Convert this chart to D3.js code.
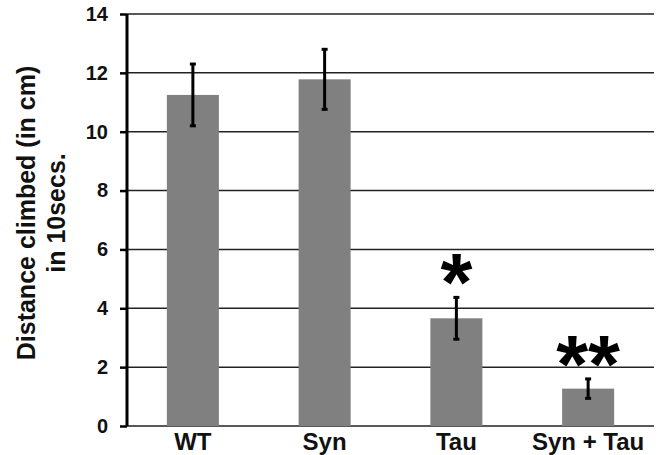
<!DOCTYPE html>
<html>
<head>
<meta charset="utf-8">
<script src="https://cdn.jsdelivr.net/npm/d3@7"></script>
<style>
  body { margin: 0; background: #fff; }
  text { font-family: "Liberation Sans", Arial, sans-serif; font-weight: bold; }
</style>
</head>
<body>
<figure id="climb" style="margin:0"></figure>
<script>
// data
const groups = ["WT", "Syn", "Tau", "Syn + Tau"];
const means = [11.25, 11.78, 3.66, 1.27];
const errors = [1.05, 1.02, 0.71, 0.33];
const stars = ["", "", "*", "**"];
const yTicks = [0, 2, 4, 6, 8, 10, 12, 14];

const W = 666, H = 455;
const margin = { top: 14, right: 12, bottom: 29, left: 127 };
const width = W - margin.left - margin.right;
const height = H - margin.top - margin.bottom;

const svg = d3.select("figure#climb")
  .append("svg")
  .attr("width", W)
  .attr("height", H)
  .append("g")
  .attr("transform", "translate(" + margin.left + "," + margin.top + ")");

// x band scale
const x = d3.scaleBand()
  .range([0, width])
  .domain(groups)
  .paddingInner(0.605)
  .paddingOuter(0.3025);

// y linear scale
const y = d3.scaleLinear()
  .domain([0, 14])
  .range([height, 0]);

// horizontal gridlines
svg.append("g")
  .selectAll("line")
  .data(yTicks)
  .enter()
  .append("line")
  .attr("x1", 0)
  .attr("x2", width)
  .attr("y1", d => y(d))
  .attr("y2", d => y(d))
  .attr("stroke", "#222")
  .attr("stroke-width", 1.5);

// bars
svg.selectAll("bars")
  .data(groups)
  .enter()
  .append("rect")
  .attr("x", d => x(d))
  .attr("y", (d, i) => y(means[i]))
  .attr("width", x.bandwidth())
  .attr("height", (d, i) => height - y(means[i]))
  .attr("fill", "#808080");

// error bars
const err = svg.append("g").attr("stroke", "#000");
groups.forEach((g, i) => {
  const cx = x(g) + x.bandwidth() / 2;
  err.append("line")
    .attr("x1", cx).attr("x2", cx)
    .attr("y1", y(means[i] + errors[i]))
    .attr("y2", y(means[i] - errors[i]))
    .attr("stroke-width", 3);
  [means[i] + errors[i], means[i] - errors[i]].forEach(v => {
    err.append("line")
      .attr("x1", cx - 3).attr("x2", cx + 3)
      .attr("y1", y(v)).attr("y2", y(v))
      .attr("stroke-width", 3);
  });
});

// significance stars above the error bars
const starSize = 82;
svg.selectAll("stars")
  .data(groups)
  .enter()
  .append("text")
  .attr("x", d => x(d) + x.bandwidth() / 2)
  .attr("y", (d, i) => y(means[i] + errors[i]) - 19 + 0.39 * starSize)
  .attr("text-anchor", "middle")
  .attr("font-size", starSize)
  .text((d, i) => stars[i]);

// y axis
const yAxis = svg.append("g")
  .call(d3.axisLeft(y).tickValues(yTicks).tickSize(7).tickPadding(12));
yAxis.select(".domain").attr("stroke-width", 3).attr("d", "M0," + height + "V0");
yAxis.selectAll(".tick line").attr("stroke-width", 2.5);
yAxis.selectAll("text").attr("font-size", 20).attr("fill", "#111");

// x labels
svg.append("g")
  .selectAll("text")
  .data(groups)
  .enter()
  .append("text")
  .attr("x", d => x(d) + x.bandwidth() / 2)
  .attr("y", height + 24)
  .attr("text-anchor", "middle")
  .attr("font-size", 24)
  .attr("fill", "#111")
  .text(d => d);

// y axis title
const title = svg.append("text")
  .attr("transform", "translate(" + (35 - margin.left) + "," + (213 - margin.top) + ")rotate(-90)")
  .attr("text-anchor", "middle")
  .attr("font-size", 25)
  .attr("fill", "#111");
title.append("tspan").attr("x", 0).attr("dy", 0).text("Distance climbed (in cm)");
title.append("tspan").attr("x", 0).attr("dy", 30).text("in 10secs.");
</script>
</body>
</html>
